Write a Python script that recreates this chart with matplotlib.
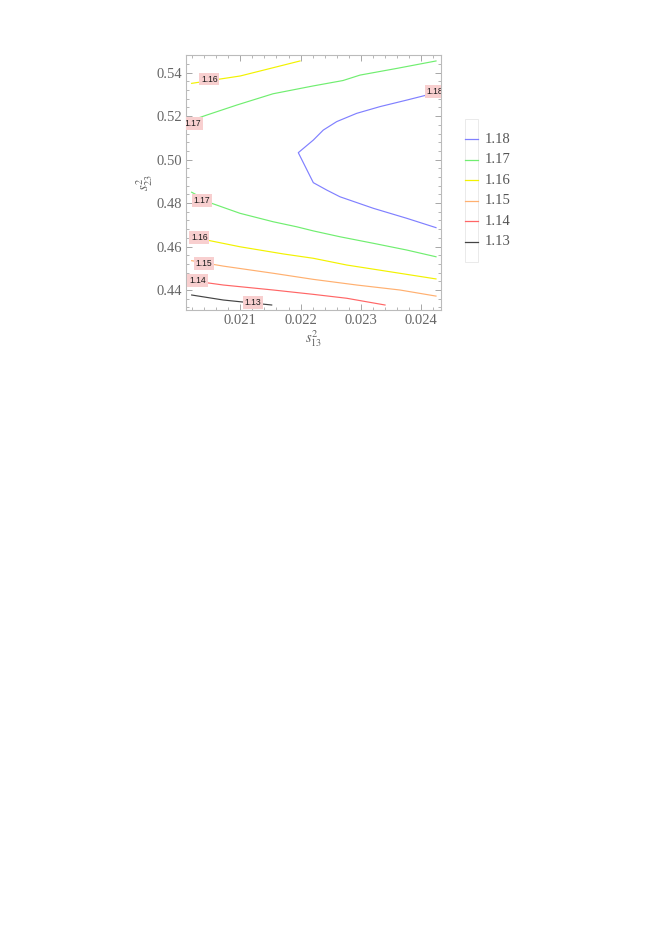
import matplotlib
matplotlib.use("Agg")
import matplotlib.pyplot as plt
from matplotlib.ticker import MultipleLocator
from matplotlib.lines import Line2D
from matplotlib.patches import Rectangle

plt.rcParams['mathtext.fontset'] = 'stix'

# contour levels and colours
levels = [1.18, 1.17, 1.16, 1.15, 1.14, 1.13]
level_colors = ['#8080ff', '#70ee70', '#f2f200', '#ffb070', '#ff6666', '#444444']

# contour lines: (level, x values, y values)
c118_x = [0.024245, 0.023760, 0.023317, 0.022930, 0.022599, 0.022376, 0.022211, 0.021962,
          0.022211, 0.022433, 0.022653, 0.023206, 0.023760, 0.024245]
c118_y = [0.5308, 0.5274, 0.5244, 0.5213, 0.5175, 0.5136, 0.5090, 0.5032,
          0.4894, 0.4860, 0.4829, 0.4776, 0.4730, 0.4687]
c117a_x = [0.02013, 0.020443, 0.02094, 0.021542, 0.022206, 0.022703, 0.022985, 0.023599, 0.024245]
c117a_y = [0.5175, 0.5205, 0.5251, 0.5303, 0.5339, 0.5364, 0.5389, 0.5420, 0.5454]
c117b_x = [0.020194, 0.020526, 0.020995, 0.021547, 0.021935, 0.022211, 0.022653, 0.023206, 0.023760, 0.024245]
c117b_y = [0.4850, 0.4799, 0.4753, 0.4714, 0.4691, 0.4672, 0.4645, 0.4615, 0.4584, 0.4553]
c116a_x = [0.020194, 0.0210, 0.02199]
c116a_y = [0.5351, 0.5385, 0.5454]
c116b_x = [0.020194, 0.020443, 0.020995, 0.021713, 0.022211, 0.022765, 0.023483, 0.024245]
c116b_y = [0.4638, 0.4630, 0.4599, 0.4566, 0.4546, 0.4515, 0.4484, 0.4451]
c115_x = [0.020194, 0.020718, 0.021547, 0.022211, 0.022930, 0.023648, 0.024245]
c115_y = [0.4535, 0.4510, 0.4477, 0.4449, 0.4423, 0.4400, 0.4372]
c114_x = [0.020194, 0.020718, 0.021547, 0.022211, 0.022765, 0.023400]
c114_y = [0.4443, 0.4423, 0.4400, 0.4380, 0.4362, 0.4331]
c113_x = [0.020194, 0.020718, 0.021521]
c113_y = [0.4377, 0.4354, 0.4331]

contours = [
    (1.18, c118_x, c118_y),
    (1.17, c117a_x, c117a_y),
    (1.17, c117b_x, c117b_y),
    (1.16, c116a_x, c116a_y),
    (1.16, c116b_x, c116b_y),
    (1.15, c115_x, c115_y),
    (1.14, c114_x, c114_y),
    (1.13, c113_x, c113_y),
]

# contour label positions (level, x, y)
lab_levels = [1.16, 1.17, 1.18, 1.17, 1.16, 1.15, 1.14, 1.13]
lab_x = [0.020486, 0.020211, 0.024229, 0.020365, 0.020320, 0.020398, 0.020287, 0.021211]
lab_y = [0.5371, 0.5167, 0.5313, 0.4812, 0.4643, 0.4523, 0.4443, 0.4343]

x_ticks = [0.021, 0.022, 0.023, 0.024]
y_ticks = [0.44, 0.46, 0.48, 0.50, 0.52, 0.54]

fig = plt.figure(figsize=(6.65, 9.4), dpi=100)
ax = fig.add_axes([186/665, 1-310/940, (441-186)/665, (310-55)/940])

cmap = dict(zip(levels, level_colors))
for lev, xs, ys in contours:
    ax.plot(xs, ys, color=cmap[lev], lw=0.85, zorder=2)

for lev, x, y in zip(lab_levels, lab_x, lab_y):
    ax.text(x, y, f"{lev:.2f}", fontsize=6.2, family='Liberation Sans', color='#1a1a1a',
            ha='center', va='center', zorder=4, clip_on=True,
            bbox=dict(boxstyle='square,pad=0.22', fc='#f8cfcf', ec='none'))

ax.set_xlim(0.020100, 0.024328)
ax.set_ylim(0.43080, 0.54815)
ax.set_xticks(x_ticks)
ax.set_xticklabels([f"{v:.3f}" for v in x_ticks])
ax.set_yticks(y_ticks)
ax.set_yticklabels([f"{v:.2f}" for v in y_ticks])
ax.xaxis.set_minor_locator(MultipleLocator(0.0002))
ax.yaxis.set_minor_locator(MultipleLocator(0.004))
ax.tick_params(which='both', direction='in', top=True, right=True, colors='#999999',
               labelcolor='#666666', labelsize=10.5)
ax.tick_params(which='major', length=4, width=0.6, pad=3)
ax.tick_params(which='minor', length=2, width=0.5)
for lab in ax.get_xticklabels() + ax.get_yticklabels():
    lab.set_family('Liberation Serif')
for sp in ax.spines.values():
    sp.set_color('#bbbbbb')
    sp.set_linewidth(0.8)

ax.set_xlabel(r'$s^2_{13}$', fontsize=10.5, color='#666666', labelpad=1)
ax.set_ylabel(r'$s^2_{23}$', fontsize=10.5, color='#666666', labelpad=1)

# legend
W, H = 665, 940
fig.add_artist(Rectangle((465/W, 1-262/H), 13/W, 143/H, transform=fig.transFigure,
                         fill=False, ec='#e6e6e6', lw=0.6))
for i, (lev, col) in enumerate(zip(levels, level_colors)):
    yy = 1 - (139.3 + 20.5*i)/H
    fig.add_artist(Line2D([465/W, 478/W], [yy, yy], transform=fig.transFigure,
                          color=col, lw=0.9))
    fig.text(485/W, yy, f"{lev:.2f}", family='Liberation Serif', fontsize=10.5,
             color='#555555', ha='left', va='center')

fig.savefig('out.png', dpi=100)
